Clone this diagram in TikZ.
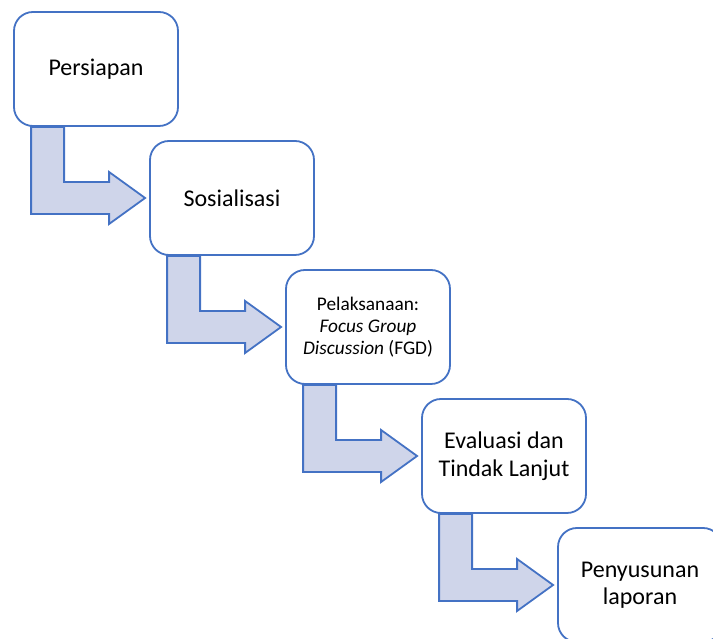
\documentclass[tikz,border=0pt]{standalone}
\usepackage{fontspec}
\setmainfont{Carlito}
\usetikzlibrary{calc,backgrounds}
\definecolor{boxblue}{HTML}{4472C4}
\definecolor{arrowfill}{HTML}{CFD5EA}
\tikzset{
  stepbox/.style={draw=boxblue, line width=1.8pt, fill=white, rounded corners=19pt,
    minimum width=164pt, minimum height=114pt, inner sep=0pt, align=center,
    font=\fontsize{24}{27.5}\selectfont},
  smalltext/.style={font=\fontsize{19.3}{22}\selectfont},
  arrowbody/.style={draw=boxblue, line width=1.8pt, fill=arrowfill, line join=miter},
}
% bent block arrow from below box #1 into the left side of box #2
\newcommand{\stepArrow}[2]{%
  \draw[arrowbody] ([xshift=18pt]#1.south west) -- ([xshift=51pt]#1.south west)
    |- ($(#2.west)+(-40,16)$) -- ++(0,10) -- ($(#2.west)+(-4,0)$)
    -- ++(-36,-26) -- ++(0,10) -| ([xshift=18pt]#1.south west) -- cycle;
}
\begin{document}
\begin{tikzpicture}[x=1pt, y=1pt]
\useasboundingbox (0,0) rectangle (713,639);
\clip (0,0) rectangle (713,639);
% Steps
\node[stepbox] (persiapan) at (96,570) {Persiapan};
\node[stepbox] (sosialisasi) at (232,441) {Sosialisasi};
\node[stepbox, smalltext] (pelaksanaan) at (368,312) {Pelaksanaan:\\ \textit{Focus Group}\\ \textit{Discussion} (FGD)};
\node[stepbox] (evaluasi) at (504,183) {Evaluasi dan\\ Tindak Lanjut};
\node[stepbox] (laporan) at (640,54) {Penyusunan\\ laporan};
% Arrows behind the boxes
\begin{scope}[on background layer]
  \stepArrow{persiapan}{sosialisasi}
  \stepArrow{sosialisasi}{pelaksanaan}
  \stepArrow{pelaksanaan}{evaluasi}
  \stepArrow{evaluasi}{laporan}
\end{scope}
\end{tikzpicture}
\end{document}
